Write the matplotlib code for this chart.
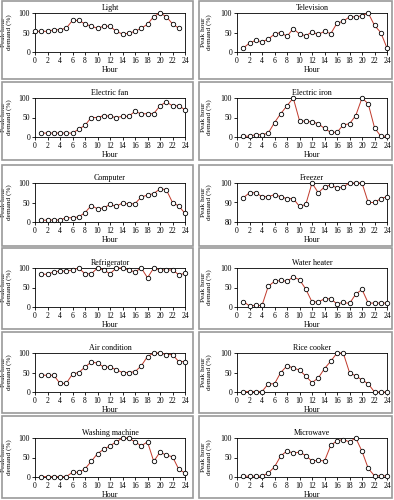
import numpy as np
import matplotlib
matplotlib.use("Agg")
import matplotlib.pyplot as plt
from matplotlib.patches import Rectangle

plt.rcParams['font.family'] = ['Liberation Serif', 'DejaVu Serif']
plt.rcParams['font.size'] = 5.5

# hours
hours_light = list(range(0, 24))
hours = list(range(1, 25))

light = [53, 53, 53, 57, 57, 61, 81, 81, 72, 66, 61, 66, 66, 53, 46, 48, 53, 61, 71, 91, 100, 91, 72, 61]
television = [10, 23, 30, 26, 33, 46, 50, 40, 60, 46, 42, 51, 45, 53, 47, 74, 79, 90, 90, 93, 100, 68, 50, 10]
electric_fan = [10, 10, 10, 10, 10, 10, 20, 30, 50, 50, 55, 53, 50, 53, 53, 66, 59, 60, 60, 80, 90, 80, 80, 70]
electric_iron = [2, 2, 6, 6, 10, 37, 60, 80, 100, 42, 40, 39, 34, 22, 12, 12, 31, 34, 55, 100, 85, 24, 2, 2]
computer = [4, 5, 5, 5, 11, 11, 13, 24, 42, 34, 36, 45, 40, 49, 46, 47, 64, 69, 73, 85, 83, 50, 41, 22]
freezer = [92.4, 95, 95, 93, 93, 94, 93, 92, 92, 88, 89, 100, 95, 98, 99, 97.5, 98, 100, 100, 100, 90, 90, 92, 93]
refrigerator = [84, 84, 90, 92, 92, 95, 100, 85, 85, 100, 95, 85, 100, 100, 95, 90, 100, 75, 100, 95, 95, 95, 83, 86]
water_heater = [14, 3, 4, 4, 53, 66, 68, 66, 77, 70, 46, 13, 13, 21, 21, 8, 12, 9, 33, 45, 10, 10, 10, 10]
air_condition = [43, 43, 43, 22, 22, 46, 50, 64, 77, 74, 64, 64, 57, 50, 50, 52, 67, 91, 100, 100, 96, 96, 78, 78]
rice_cooker = [1, 1, 1, 1, 21, 21, 50, 67, 62, 56, 41, 24, 36, 60, 79, 100, 100, 50, 41, 31, 21, 0, 0, 0]
washing_machine = [1, 1, 1, 1, 1, 12, 12, 21, 40, 60, 71, 80, 90, 100, 100, 90, 80, 90, 40, 64, 56, 52, 20, 10]
microwave = [2, 2, 2, 2, 10, 26, 54, 67, 61, 64, 55, 41, 43, 41, 81, 93, 96, 90, 100, 66, 22, 3, 3, 3]

titles = ["Light", "Television", "Electric fan", "Electric iron", "Computer", "Freezer",
          "Refrigerator", "Water heater", "Air condition", "Rice cooker", "Washing machine", "Microwave"]
series = [light, television, electric_fan, electric_iron, computer, freezer,
          refrigerator, water_heater, air_condition, rice_cooker, washing_machine, microwave]
xs = [hours_light] + [hours] * 11

W, H = 394, 500
fig = plt.figure(figsize=(W / 100, H / 100), dpi=100)

axes_top = [13, 98, 183, 268, 353, 438]
axes_h = 39
col_left = [35, 237]
axes_w = 150
panel_rows = [(1, 79), (82, 160), (165, 246), (248, 329), (332, 413), (416, 498)]
panel_cols = [(2, 193), (199, 392)]
ylabel_x = [12, 212]

for i, (title, ys, x) in enumerate(zip(titles, series, xs)):
    r, c = divmod(i, 2)
    # grey panel frame
    p0, p1 = panel_rows[r]
    q0, q1 = panel_cols[c]
    fig.patches.append(Rectangle((q0 / W, 1 - p1 / H), (q1 - q0) / W, (p1 - p0) / H,
                                 transform=fig.transFigure, fill=False,
                                 edgecolor='#9a9a9a', linewidth=1.2))
    ax = fig.add_axes([col_left[c] / W, 1 - (axes_top[r] + axes_h) / H, axes_w / W, axes_h / H])
    ax.plot(x, ys, color='#c0392b', linewidth=0.7, marker='o', markersize=3.2,
            markerfacecolor='white', markeredgecolor='black', markeredgewidth=0.6,
            clip_on=False, zorder=3)
    ax.set_xlim(0, 24)
    ax.set_xticks(range(0, 25, 2))
    if title == "Freezer":
        ax.set_ylim(80, 100)
        ax.set_yticks([80, 90, 100])
    else:
        ax.set_ylim(0, 100)
        ax.set_yticks([0, 50, 100])
    ax.tick_params(length=2, width=0.6, pad=1.5, labelsize=5.5)
    for s in ax.spines.values():
        s.set_linewidth(0.6)
    ax.set_title(title, fontsize=5.8, pad=2)
    ax.set_xlabel("Hour", fontsize=5.8, labelpad=1)
    ax.set_ylabel("Peak hour\ndemand (%)", fontsize=5.2, linespacing=1.05)
    ax.yaxis.set_label_coords((ylabel_x[c] - col_left[c]) / axes_w, 0.5)

fig.savefig("out.png", dpi=100)
